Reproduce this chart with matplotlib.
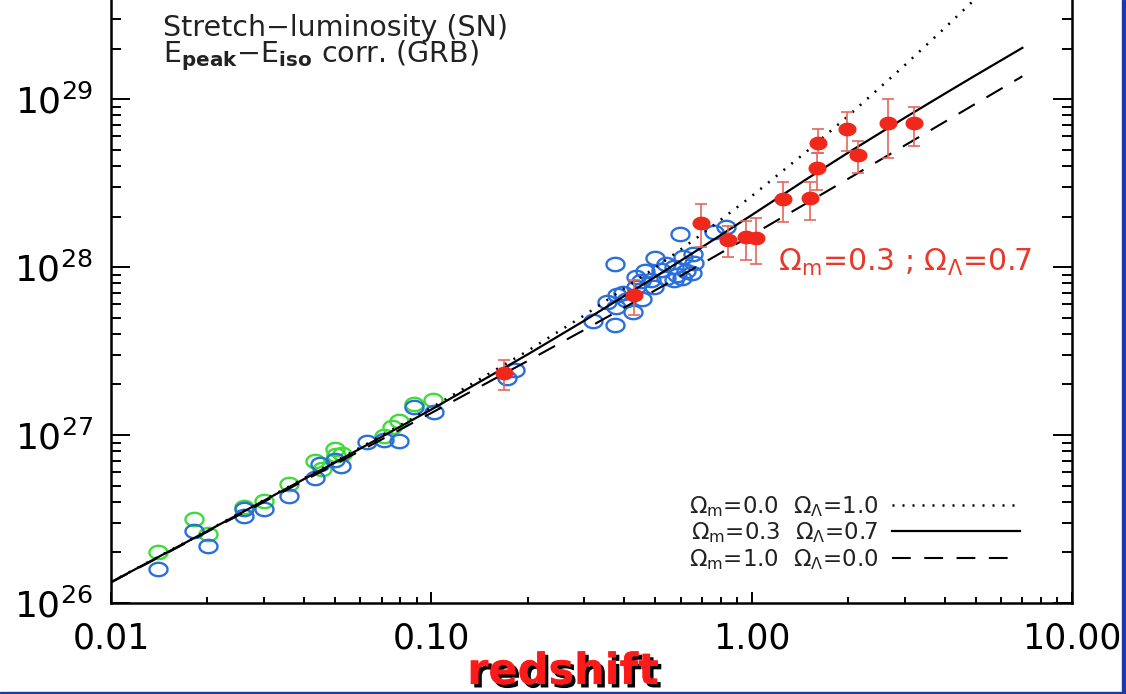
import matplotlib
matplotlib.use('Agg')
import matplotlib.pyplot as plt
import matplotlib.patheffects as pe
from matplotlib.path import Path
from matplotlib.patches import Rectangle
from matplotlib.ticker import LogLocator, NullFormatter
import numpy as np

plt.rcParams['font.family'] = ['DejaVu Sans']
plt.rcParams['mathtext.fontset'] = 'dejavusans'
plt.rcParams['mathtext.default'] = 'regular'

# model curves: luminosity distance (cm) vs redshift
z_model = [0.01, 0.02, 0.05, 0.1, 0.2, 0.3, 0.5, 0.7, 1.0, 1.5, 2.0, 3.0, 4.0, 5.0, 7.0]
dl_m00 = [1.335e26, 2.696e26, 6.94e26, 1.454e27, 3.172e27, 5.155e27, 9.91e27, 1.573e28,
          2.643e28, 4.956e28, 7.93e28, 1.586e29, 2.643e29, 3.965e29, 7.40e29]
dl_m03 = [1.332e26, 2.684e26, 6.861e26, 1.419e27, 3.021e27, 4.790e27, 8.739e27, 1.314e28,
          2.039e28, 3.384e28, 4.796e28, 7.725e28, 1.075e29, 1.385e29, 2.019e29]
dl_m10 = [1.325e26, 2.657e26, 6.689e26, 1.353e27, 2.764e27, 4.225e27, 7.276e27, 1.047e28,
          1.548e28, 2.429e28, 3.352e28, 5.287e28, 7.306e28, 9.386e28, 1.367e29]

# SN (stretch-luminosity), low-z sample in green
green_z = [0.01406, 0.01817, 0.02014, 0.0261, 0.03006, 0.03607, 0.04318, 0.04553,
           0.0501, 0.0505, 0.0528, 0.0710, 0.0754, 0.0790, 0.0881, 0.1012]
green_d = [2.00e26, 3.15e26, 2.56e26, 3.74e26, 4.06e26, 5.11e26, 7.03e26, 6.28e26,
           8.28e26, 7.57e26, 7.67e26, 9.87e26, 1.12e27, 1.22e27, 1.52e27, 1.61e27]

# SN, blue sample
blue_z = [0.01406, 0.01817, 0.02014, 0.0261, 0.0261, 0.03013, 0.03607, 0.0434, 0.04497,
          0.0502, 0.0522, 0.0630, 0.0713, 0.0790, 0.0881, 0.1022, 0.1724, 0.1821,
          0.5957, 0.762, 0.8292, 0.374, 0.4975, 0.4629, 0.4339, 0.4498, 0.5386, 0.5717,
          0.6115, 0.6574, 0.6603, 0.6216, 0.6527, 0.5859, 0.5386, 0.4950, 0.4834, 0.5717,
          0.6073, 0.3972, 0.3804, 0.354, 0.3758, 0.4040, 0.4553, 0.4270, 0.374, 0.3201,
          0.4339, 0.5196]
blue_d = [1.59e26, 2.68e26, 2.19e26, 3.61e26, 3.31e26, 3.61e26, 4.35e26, 5.55e26, 6.69e26,
          7.10e26, 6.52e26, 9.05e26, 9.33e26, 9.25e26, 1.46e27, 1.38e27, 2.18e27, 2.44e27,
          1.572e28, 1.609e28, 1.723e28, 1.038e28, 1.127e28, 9.51e27, 8.75e27, 8.29e27,
          1.042e28, 1.004e28, 1.152e28, 1.195e28, 1.052e28, 9.51e27, 9.17e27, 8.96e27,
          8.56e27, 7.57e27, 8.37e27, 8.37e27, 8.56e27, 6.97e27, 6.81e27, 6.22e27, 5.80e27,
          6.36e27, 6.42e27, 5.42e27, 4.52e27, 4.79e27, 7.63e27, 9.59e27]

# GRB (Epeak-Eiso correlation) with asymmetric errors
grb_z = [0.169, 0.430, 0.694, 0.845, 0.960, 1.029, 1.256, 1.521, 1.604, 1.616,
         1.991, 2.148, 2.661, 3.215]
grb_d = [2.33e27, 6.81e27, 1.835e28, 1.448e28, 1.515e28, 1.494e28, 2.54e28, 2.565e28,
         3.87e28, 5.50e28, 6.66e28, 4.64e28, 7.17e28, 7.17e28]
grb_lo = [1.85e27, 5.18e27, 1.315e28, 1.147e28, 1.10e28, 1.04e28, 1.86e28, 1.905e28,
          2.87e28, 4.79e28, 4.92e28, 3.64e28, 4.44e28, 5.27e28]
grb_hi = [2.79e27, 8.37e27, 2.37e28, 1.75e28, 1.89e28, 1.96e28, 3.21e28, 3.21e28,
          4.78e28, 6.63e28, 8.37e28, 5.62e28, 9.95e28, 9.0e28]

xticks = [0.01, 0.1, 1, 10]
xticklabels = ['0.01', '0.10', '1.00', '10.00']
yticks = [1e26, 1e27, 1e28, 1e29]
yticklabels = [r'$10^{26}$', r'$10^{27}$', r'$10^{28}$', r'$10^{29}$']

fig = plt.figure(figsize=(11.26, 6.94), dpi=100)
ax = fig.add_axes([111 / 1126, 91 / 694, 961 / 1126, 603 / 694])

# flattened circle used as plotting symbol
t = np.linspace(0, 2 * np.pi, 61)
ell = Path(np.column_stack([np.cos(t), 0.74 * np.sin(t)]))

ax.plot(green_z, green_d, ls='none', marker=ell, ms=13, mfc='none',
        mec='#3ddc3a', mew=1.7, zorder=2)
ax.plot(blue_z, blue_d, ls='none', marker=ell, ms=13, mfc='none',
        mec='#2a6fdc', mew=1.7, zorder=2)

l1, = ax.plot(z_model, dl_m00, color='black', lw=1.8, dashes=(0.8, 3.2), zorder=3)
l2, = ax.plot(z_model, dl_m03, color='black', lw=1.6, zorder=3)
l3, = ax.plot(z_model, dl_m10, color='black', lw=1.5, dashes=(9, 6.5), zorder=3)

grb_d_arr = np.array(grb_d)
yerr = [grb_d_arr - np.array(grb_lo), np.array(grb_hi) - grb_d_arr]
ax.errorbar(grb_z, grb_d, yerr=yerr, fmt='none', ecolor='#e3675c', elinewidth=1.2,
            capsize=4.5, capthick=1.2, zorder=4)
ax.plot(grb_z, grb_d, ls='none', marker=ell, ms=12, mfc='#f0281c', mec='#f0281c',
        zorder=5)

ax.set_xscale('log')
ax.set_yscale('log')
ax.set_xlim(0.01, 10)
ax.set_ylim(1e26, 10 ** 29.59)
ax.set_xticks(xticks, labels=xticklabels)
ax.set_yticks(yticks, labels=yticklabels)
ax.xaxis.set_minor_locator(LogLocator(base=10, subs=range(2, 10)))
ax.yaxis.set_minor_locator(LogLocator(base=10, subs=range(2, 10)))
ax.xaxis.set_minor_formatter(NullFormatter())
ax.yaxis.set_minor_formatter(NullFormatter())
ax.tick_params(which='both', direction='in', right=True, top=False, width=1.4)
ax.tick_params(axis='x', which='major', length=8, pad=13, labelsize=25)
ax.tick_params(axis='x', which='minor', length=4)
ax.tick_params(axis='y', which='major', length=14, pad=13, labelsize=26)
ax.tick_params(axis='y', which='minor', length=7)
ax.spines['top'].set_visible(False)
for s in ['left', 'right', 'bottom']:
    ax.spines[s].set_linewidth(1.8)

ax.text(0.054, 0.928,
        'Stretch\u2212luminosity (SN)\n' + r'E$_{\mathbf{peak}}$' + '\u2212' + r'E$_{\mathbf{iso}}$ corr. (GRB)',
        transform=ax.transAxes, fontsize=20.5, va='center', ha='left', color='#222222',
        linespacing=0.85)
ax.text(0.694, 0.5655, r'$\Omega_m$=0.3 ; $\Omega_\Lambda$=0.7', transform=ax.transAxes,
        fontsize=21.5, color='#e8392a', va='center', ha='left')

ax.legend([l1, l2, l3],
          [r'$\Omega_m$=0.0  $\Omega_\Lambda$=1.0',
           r'$\Omega_m$=0.3  $\Omega_\Lambda$=0.7',
           r'$\Omega_m$=1.0  $\Omega_\Lambda$=0.0'],
          loc='lower right', bbox_to_anchor=(0.958, 0.033), frameon=False,
          markerfirst=False, handlelength=5.6, fontsize=16.5, labelspacing=0.06,
          borderpad=0, handletextpad=0.6, labelcolor='#222222')

fig.text(563 / 1126, 1 - 672 / 694, 'redshift', ha='center', va='center',
         fontsize=31, fontweight='bold', color='#ff1a1a',
         path_effects=[pe.withSimplePatchShadow(offset=(2.5, -2.5), shadow_rgbFace='black',
                                                alpha=1.0), pe.Normal()])

# slide frame on the right and bottom
fig.add_artist(Rectangle((1122 / 1126, 0), 4 / 1126, 1, transform=fig.transFigure,
                         color='#1a3aa8', zorder=20))
fig.add_artist(Rectangle((0, 0), 1, 2.5 / 694, transform=fig.transFigure,
                         color='#1a3aa8', zorder=20))

fig.savefig('out.png', dpi=100)
